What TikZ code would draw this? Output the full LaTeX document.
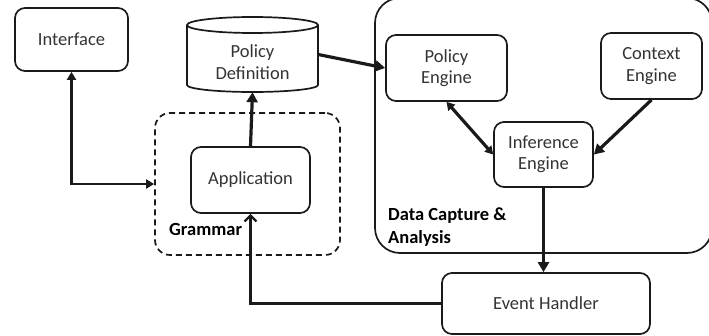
\documentclass[tikz,border=0pt]{standalone}
\usepackage{fontspec}
\setmainfont{Carlito}
\usetikzlibrary{arrows.meta}
\definecolor{ink}{HTML}{1A1A1A}
\definecolor{txt}{HTML}{333333}
\begin{document}
\begin{tikzpicture}[x=1pt,y=-1pt,
  box/.style={draw=ink, line width=1.7pt, rounded corners=10pt, align=center,
    inner sep=0pt, text=txt, font=\fontsize{18.5}{21.5}\selectfont},
  lbl/.style={font=\fontsize{18.5}{23}\selectfont\bfseries, text=black, align=left, inner sep=0pt},
  thick arrow/.style={draw=ink, line width=3.2pt, -{Triangle[length=10pt,width=11pt]}},
  both arrow/.style={draw=ink, line width=2.6pt, {Triangle[length=8pt,width=9pt]}-{Triangle[length=8pt,width=9pt]}},
  open arrow/.style={draw=ink, line width=2.3pt, -{Straight Barb[length=6pt,width=12pt,line width=2.3pt]}}
]
\useasboundingbox (0,0) rectangle (709,336);
\clip (0,0) rectangle (709,336);

% group frames
\draw[ink, line width=1.7pt, rounded corners=25pt] (375,-2) rectangle (712,253);
\node[draw=ink, line width=1.7pt, dash pattern=on 6pt off 4pt, rounded corners=15pt,
  minimum width=185pt, minimum height=142pt, inner sep=0pt] (gram) at (247.5,184) {};
\node[lbl, anchor=west] (gramlbl) at (169,230) {Grammar};
\node[lbl, anchor=north west] (dcalbl) at (388,208) {Data Capture \&\\Analysis};

% boxes
\node[box, minimum width=113pt, minimum height=63pt] (iface) at (71.5,39.5) {Interface};
\node[box, minimum width=119pt, minimum height=66pt] (app) at (250.5,180) {Application};
\node[box, minimum width=121pt, minimum height=66pt] (peng) at (446.5,68) {Policy\\Engine};
\node[box, minimum width=101pt, minimum height=66pt] (ceng) at (651.5,66) {Context\\Engine};
\node[box, minimum width=99pt, minimum height=65pt] (inf) at (543.5,154.5) {Inference\\Engine};
\node[box, minimum width=208pt, minimum height=61pt] (evh) at (546,303.5) {Event Handler};

% policy store drawn as a cylinder
\node[minimum width=131pt, minimum height=75pt, inner sep=0pt] (pdef) at (252.5,54.5) {};
\draw[ink, line width=1.7pt] (187,25) -- (187,85) arc[start angle=180, end angle=360, x radius=65.5pt, y radius=7pt] -- (318,25);
\draw[ink, line width=1.7pt] (252.5,25) ellipse[x radius=65.5pt, y radius=8pt];
\node[text=txt, font=\fontsize{18.5}{21.5}\selectfont, align=center, inner sep=0pt] (pdeftxt) at (252.5,62) {Policy\\Definition};

% connectors
\draw[both arrow] (iface.south) |- (gram.west);
\draw[thick arrow] (app.north) -- (pdef.south);
\draw[thick arrow] (pdef.east) -- (peng.west);
\draw[both arrow, line width=3.2pt] (peng.south) -- (inf.west);
\draw[thick arrow] (ceng.south) -- (inf.east);
\draw[thick arrow] (inf.south) -- (inf.south |- evh.north);
\draw[open arrow] (evh.west) -| (app.south);
\end{tikzpicture}
\end{document}
